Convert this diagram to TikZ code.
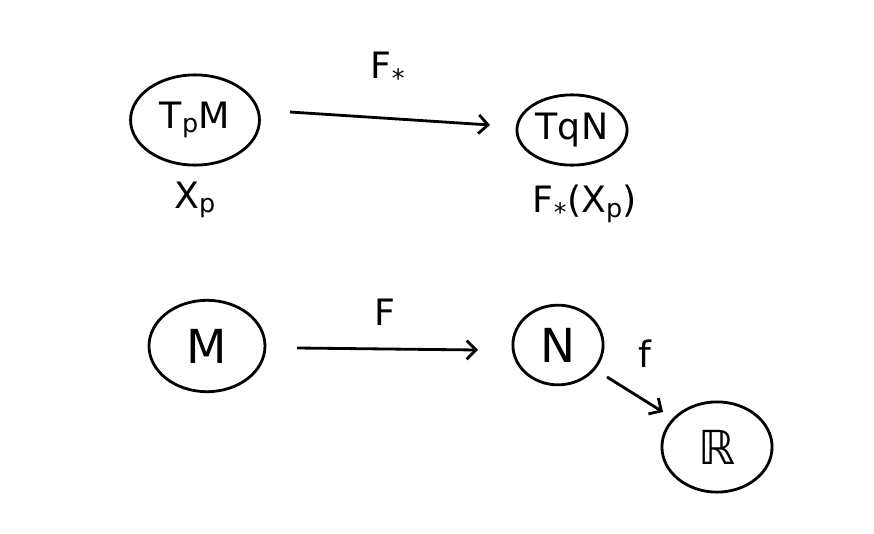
\documentclass[tikz,border=0pt]{standalone}
\usepackage{fontspec}
\setsansfont{DejaVu Sans}
\usetikzlibrary{shapes.geometric,arrows.meta}
\colorlet{ink}{black}
\tikzset{
    blob/.style={ink,draw,ellipse,line width=2.4pt,inner sep=0pt,font=\sffamily\fontsize{31}{35}\selectfont},
    big/.style={font=\sffamily\fontsize{40}{44}\selectfont},
    lbl/.style={ink,inner sep=0pt,font=\sffamily\fontsize{31}{35}\selectfont},
    map/.style={ink,line width=2.4pt,-{Straight Barb[length=8pt,width=16pt]}}
}
\begin{document}
\begin{tikzpicture}[x=0.03cm,y=-0.03cm]
    \useasboundingbox (0,0) rectangle (874,533);
    % tangent spaces
    \node [blob,minimum width=110pt,minimum height=77pt] (tpm) at (195,120) {T\textsubscript{p}M};
    \node [blob,minimum width=94pt,minimum height=60pt] (tqn) at (572,130) {TqN};
    \node [lbl] (xp) at (195,200) {X\textsubscript{p}};
    \node [lbl] (fxp) at (585,204) {F\textsubscript{*}(X\textsubscript{p})};
    \coordinate (a1) at (290,112);
    \coordinate (a2) at (490,125);
    \draw [map] (a1) -- (a2);
    \node [lbl] (fstar) at (388,70) {F\textsubscript{*}};
    % manifolds
    \node [blob,big,minimum width=99pt,minimum height=78pt] (m) at (207,346) {M};
    \node [blob,big,minimum width=77pt,minimum height=68pt] (n) at (558,345) {N};
    \node [blob,big,minimum width=94pt,minimum height=77pt] (r) at (717,447) {ℝ};
    \coordinate (b1) at (297,348);
    \coordinate (b2) at (478,350);
    \draw [map] (b1) -- (b2);
    \node [lbl] (F) at (385,312) {F};
    \coordinate (c1) at (607,377);
    \coordinate (c2) at (663,412);
    \draw [map] (c1) -- (c2);
    \node [lbl] (f) at (645,354) {f};
\end{tikzpicture}
\end{document}
